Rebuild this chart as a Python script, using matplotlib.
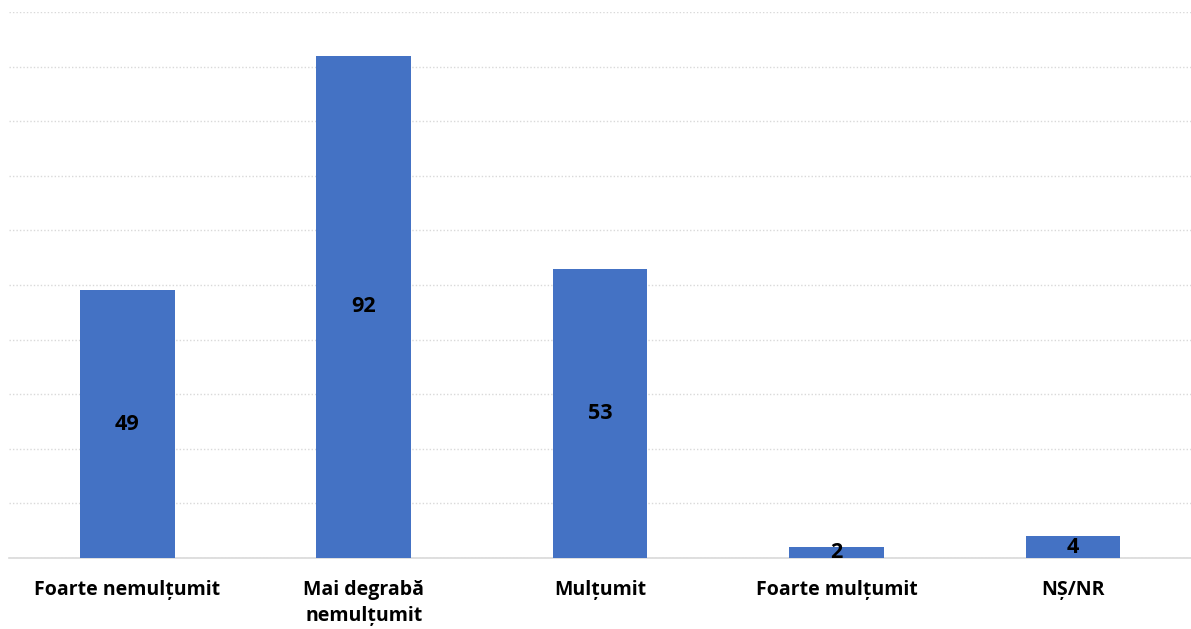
import matplotlib.pyplot as plt

# data
categories = ["Foarte nemulțumit", "Mai degrabă\nnemulțumit", "Mulțumit", "Foarte mulțumit", "NȘ/NR"]
values = [49, 92, 53, 2, 4]

plt.rcParams['font.family'] = ['Open Sans', 'DejaVu Sans']

fig = plt.figure(figsize=(11.91, 6.29), dpi=100)
ax = fig.add_axes([0.0076, 0.1129, 0.9924, 0.8681])

x = list(range(len(categories)))
bars = ax.bar(x, values, width=0.4, color="#4472C4", zorder=3)

for xi, v in zip(x, values):
    ax.text(xi, v / 2, str(v), ha="center", va="center", fontsize=15.5,
            fontweight="bold", color="black", zorder=4)

ax.set_xlim(-0.5, len(categories) - 0.5)
ax.set_ylim(0, 100)
ax.set_yticks(range(0, 101, 10))
ax.yaxis.grid(True, linestyle=(0, (1, 1.5)), color="#d9d9d9", linewidth=1)
ax.tick_params(axis="y", left=False, labelleft=False)
ax.tick_params(axis="x", bottom=False, pad=12)
ax.set_xticks(x)
ax.set_xticklabels(categories, fontsize=14, fontweight="bold", linespacing=1.45)
for lbl in ax.get_xticklabels():
    lbl.set_verticalalignment("top")

for s in ["top", "left", "right"]:
    ax.spines[s].set_visible(False)
ax.spines["bottom"].set_color("#d9d9d9")
ax.spines["bottom"].set_linewidth(1.2)

fig.savefig("out.png", dpi=100)
